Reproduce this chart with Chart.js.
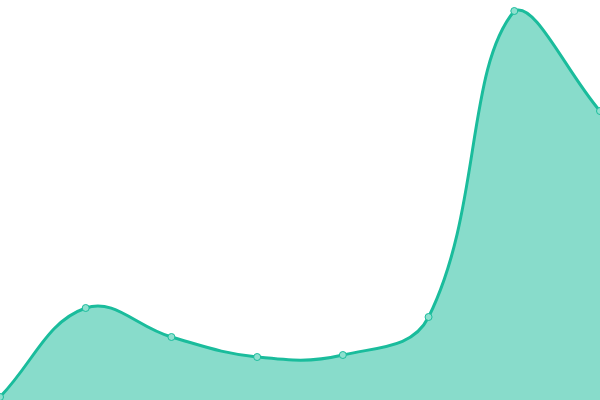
<!DOCTYPE html>
<html>
<head>
<meta charset="utf-8">
<script src="https://cdn.jsdelivr.net/npm/chart.js@4/dist/chart.umd.min.js"></script>
<style>
  html, body { margin: 0; padding: 0; background: #fff; }
  #wrap { width: 600px; height: 400px; }
</style>
</head>
<body>
<div id="wrap"><canvas id="chart"></canvas></div>
<script>
// Data
const labels = ['1', '2', '3', '4', '5', '6', '7', '8'];
const values = [3, 92, 63, 43, 45, 83, 389, 289];
const yMin = 0;
const yMax = 400;

const chartCanvas = document.getElementById('chart');

const chart = new Chart(chartCanvas, {
    type: 'line',
    data: {
        labels: labels,
        datasets: [{
            data: values,
            fill: true,
            tension: 0.4,
            backgroundColor: 'rgba(26, 188, 156, 0.52)',
            borderColor: '#1abc9c',
            borderWidth: 3,
            pointRadius: 3.5,
            pointBackgroundColor: '#8ee0cf',
            pointBorderColor: '#1abc9c',
            pointBorderWidth: 1
        }]
    },
    options: {
        responsive: true,
        maintainAspectRatio: false,
        animation: false,
        layout: { padding: 0, autoPadding: false },
        plugins: {
            legend: { display: false },
            tooltip: { enabled: false }
        },
        scales: {
            x: { display: false },
            y: { display: false, min: yMin, max: yMax }
        }
    }
});
</script>
</body>
</html>
